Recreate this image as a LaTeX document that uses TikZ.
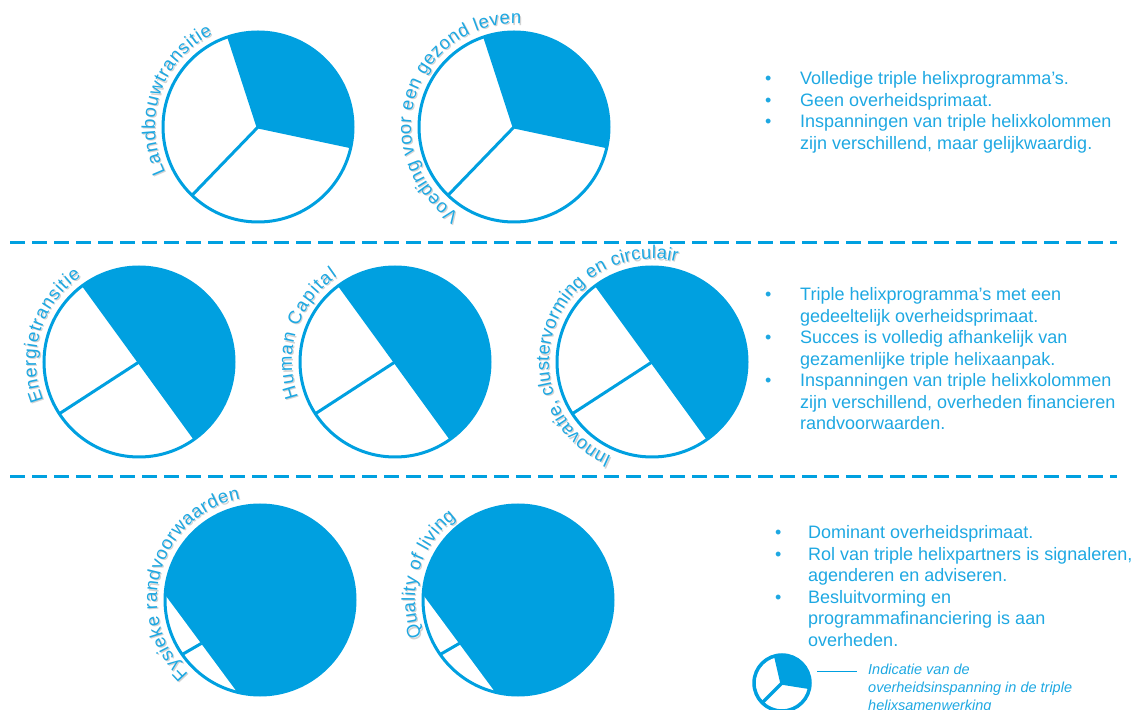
\documentclass[tikz,border=0pt]{standalone}
\usepackage{fontspec}
\setmainfont{Liberation Sans}
\usetikzlibrary{decorations.text}

\definecolor{helixblauw}{RGB}{0,160,224}
\definecolor{helixtekst}{RGB}{30,168,226}
\newcommand{\boogfont}{\fontsize{18.5}{20}\selectfont}
% tekst langs de rand van een cirkel: middelpunt, beginhoek, eindhoek, tekst
\newcommand{\boogtekst}[4]{%
  \path[decorate, decoration={text along path, text align=fit to path,
      text={|\boogfont\color{gray!35}|#4}}]
    ([shift={(1.2,-1.2)}]#1) ++(#2:103) arc[start angle=#2, end angle=#3, radius=103];
  \path[decorate, decoration={text along path, text align=fit to path,
      text={|\boogfont\color{helixtekst}|#4}}]
    (#1) ++(#2:103) arc[start angle=#2, end angle=#3, radius=103];
}

\begin{document}
\begin{tikzpicture}[x=1pt, y=1pt,
    pierand/.style={draw=helixblauw, line width=3pt},
    scheiding/.style={draw=helixblauw, line width=3pt, dash pattern=on 15pt off 7pt},
    blok/.style={anchor=base west, inner sep=0pt, text=helixtekst,
      font={\fontsize{18}{21.5}\selectfont}}]
    \useasboundingbox (0,0) rectangle (1136,710);
    \clip (0,0) rectangle (1136,710);
    % middelpunten
    \coordinate (t1) at (258,583);
    \coordinate (t2) at (514,583);
    \coordinate (m1) at (139,348);
    \coordinate (m2) at (395,348);
    \coordinate (m3) at (652,348);
    \coordinate (b1) at (260,110);
    \coordinate (b2) at (518,110);
    \coordinate (leg) at (782,27);
    % Rij 1: een derde overheid
    \foreach \c in {t1,t2} {
      \fill[helixblauw] (\c) -- ++(-12:95) arc[start angle=-12, end angle=108, radius=95] -- cycle;
      \draw[pierand] (\c) circle[radius=95];
      \foreach \a in {108,-12,226} \draw[pierand] (\c) -- ++(\a:95);
    }
    \boogtekst{t1}{206}{116}{Landbouwtransitie}
    \boogtekst{t2}{238}{86}{Voeding voor een gezond leven}
    % Rij 2: helft overheid
    \foreach \c in {m1,m2,m3} {
      \fill[helixblauw] (\c) -- ++(-54:95) arc[start angle=-54, end angle=126, radius=95] -- cycle;
      \draw[pierand] (\c) circle[radius=95];
      \foreach \a in {126,-54,213} \draw[pierand] (\c) -- ++(\a:95);
    }
    \boogtekst{m1}{202}{124}{Energietransitie}
    \boogtekst{m2}{200}{124}{Human Capital}
    \boogtekst{m3}{247}{76}{Innovatie, clustervorming en circulair}
    % Rij 3: bijna alles overheid
    \foreach \c in {b1,b2} {
      \fill[helixblauw] (\c) circle[radius=95];
      \fill[white] (\c) ++(177:95) arc[start angle=177, end angle=256, radius=95] -- cycle;
      \draw[pierand] (\c) circle[radius=95];
      \draw[pierand] (\c) ++(215:95) -- ([shift={(216.5:73)}]\c);
    }
    \boogtekst{b1}{226}{101}{Fysieke randvoorwaarden}
    \boogtekst{b2}{201}{127}{Quality of living}
    % Scheidingslijnen
    \coordinate (s1a) at (10,467);
    \coordinate (s1b) at (1117,467);
    \coordinate (s2a) at (10,233);
    \coordinate (s2b) at (1117,233);
    \draw[scheiding] (s1a) -- (s1b);
    \draw[scheiding] (s2a) -- (s2b);
    % Toelichting per rij
    \node[blok] (blok1) at (765,625) {\begin{tabular}[t]{@{}p{35pt}@{}l@{}}
      \textbullet & Volledige triple helixprogramma’s.\\
      \textbullet & Geen overheidsprimaat.\\
      \textbullet & Inspanningen van triple helixkolommen\\
                  & zijn verschillend, maar gelijkwaardig.
    \end{tabular}};
    \node[blok] (blok2) at (765,409) {\begin{tabular}[t]{@{}p{35pt}@{}l@{}}
      \textbullet & Triple helixprogramma’s met een\\
                  & gedeeltelijk overheidsprimaat.\\
      \textbullet & Succes is volledig afhankelijk van\\
                  & gezamenlijke triple helixaanpak.\\
      \textbullet & Inspanningen van triple helixkolommen\\
                  & zijn verschillend, overheden financieren\\
                  & randvoorwaarden.
    \end{tabular}};
    \node[blok] (blok3) at (775,171) {\begin{tabular}[t]{@{}p{33pt}@{}l@{}}
      \textbullet & Dominant overheidsprimaat.\\
      \textbullet & Rol van triple helixpartners is signaleren,\\
                  & agenderen en adviseren.\\
      \textbullet & Besluitvorming en\\
                  & programmafinanciering is aan\\
                  & overheden.
    \end{tabular}};
    % Legenda
    \fill[helixblauw] (leg) -- ++(-9:28) arc[start angle=-9, end angle=103, radius=28] -- cycle;
    \draw[pierand, line width=3.5pt] (leg) circle[radius=28];
    \foreach \a in {103,-9,225} \draw[pierand, line width=3.5pt] (leg) -- ++(\a:28);
    \node[anchor=base west, inner sep=0pt, text=helixtekst,
      font={\fontsize{14.5}{18}\selectfont\itshape}] (legtekst) at (868,35)
      {\begin{tabular}[t]{@{}l@{}}
        Indicatie van de\\
        overheidsinspanning in de triple\\
        helixsamenwerking
      \end{tabular}};
    \coordinate (legA) at (817,38);
    \coordinate (legB) at (857,38);
    \draw[helixblauw, line width=1pt] (legA) -- (legB);
\end{tikzpicture}
\end{document}
